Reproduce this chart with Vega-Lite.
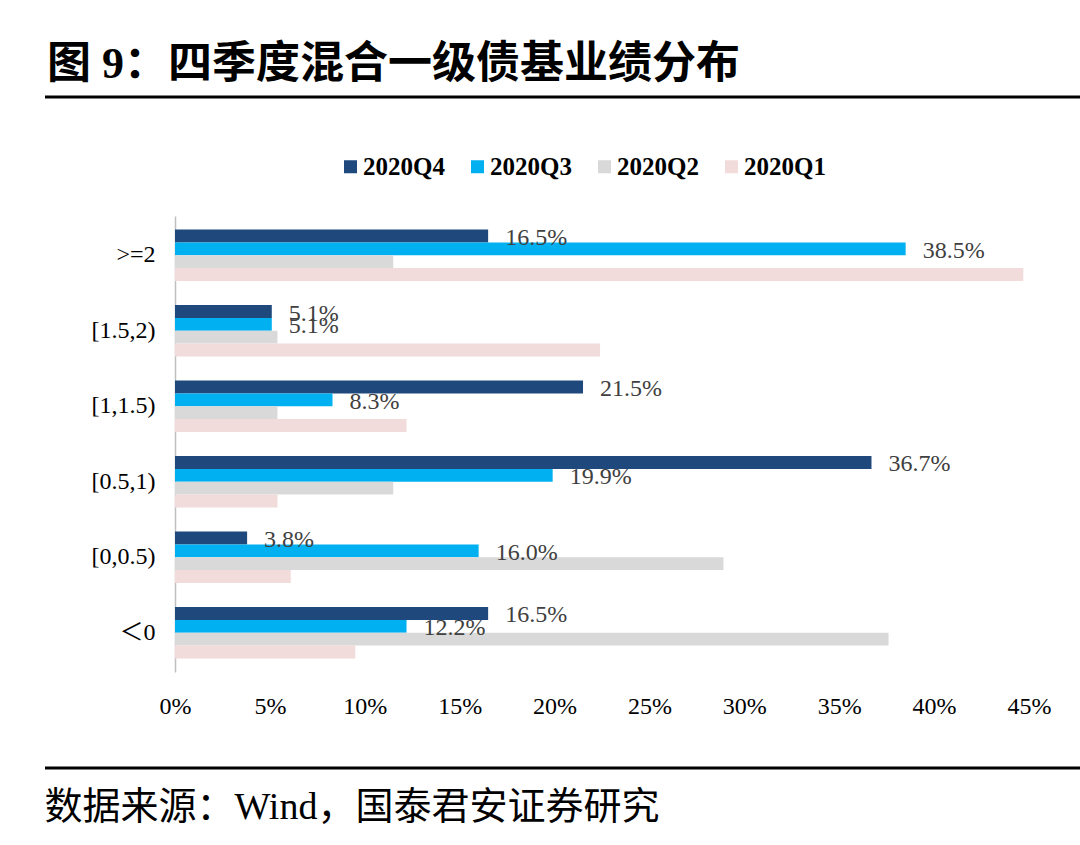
{
  "$schema": "https://vega.github.io/schema/vega-lite/v6.json",
  "width": 854,
  "height": 456,
  "autosize": "none",
  "padding": {"left": 175, "top": 216, "right": 51, "bottom": 173},
  "background": "white",
  "title": {
    "text": "图 9：四季度混合一级债基业绩分布",
    "anchor": "start",
    "frame": "group",
    "dx": -128,
    "offset": 9,
    "font": "Liberation Serif, Noto Sans CJK SC",
    "fontSize": 44,
    "fontWeight": "bold",
    "color": "black"
  },
  "data": {
    "values": [
      {"range": ">=2", "series": "2020Q4", "value": 0.165},
      {"range": ">=2", "series": "2020Q3", "value": 0.385},
      {"range": ">=2", "series": "2020Q2", "value": 0.115},
      {"range": ">=2", "series": "2020Q1", "value": 0.447},
      {"range": "[1.5,2)", "series": "2020Q4", "value": 0.051},
      {"range": "[1.5,2)", "series": "2020Q3", "value": 0.051},
      {"range": "[1.5,2)", "series": "2020Q2", "value": 0.054},
      {"range": "[1.5,2)", "series": "2020Q1", "value": 0.224},
      {"range": "[1,1.5)", "series": "2020Q4", "value": 0.215},
      {"range": "[1,1.5)", "series": "2020Q3", "value": 0.083},
      {"range": "[1,1.5)", "series": "2020Q2", "value": 0.054},
      {"range": "[1,1.5)", "series": "2020Q1", "value": 0.122},
      {"range": "[0.5,1)", "series": "2020Q4", "value": 0.367},
      {"range": "[0.5,1)", "series": "2020Q3", "value": 0.199},
      {"range": "[0.5,1)", "series": "2020Q2", "value": 0.115},
      {"range": "[0.5,1)", "series": "2020Q1", "value": 0.054},
      {"range": "[0,0.5)", "series": "2020Q4", "value": 0.038},
      {"range": "[0,0.5)", "series": "2020Q3", "value": 0.160},
      {"range": "[0,0.5)", "series": "2020Q2", "value": 0.289},
      {"range": "[0,0.5)", "series": "2020Q1", "value": 0.061},
      {"range": "＜0", "series": "2020Q4", "value": 0.165},
      {"range": "＜0", "series": "2020Q3", "value": 0.122},
      {"range": "＜0", "series": "2020Q2", "value": 0.376},
      {"range": "＜0", "series": "2020Q1", "value": 0.095}
    ]
  },
  "layer": [
    {
      "mark": {"type": "bar"},
      "encoding": {
        "y": {
          "field": "range",
          "type": "nominal",
          "sort": [">=2", "[1.5,2)", "[1,1.5)", "[0.5,1)", "[0,0.5)", "＜0"],
          "scale": {"paddingInner": 0.32, "paddingOuter": 0.18},
          "axis": {
            "title": null,
            "ticks": false,
            "domainColor": "#bfbfbf",
            "domainWidth": 1.5,
            "labelFont": "Liberation Serif, Noto Sans CJK SC",
            "labelFontSize": 24,
            "labelColor": "black",
            "labelPadding": 20
          }
        },
        "yOffset": {
          "field": "series",
          "type": "nominal",
          "sort": ["2020Q4", "2020Q3", "2020Q2", "2020Q1"],
          "scale": {"paddingInner": 0, "paddingOuter": 0}
        },
        "x": {
          "field": "value",
          "type": "quantitative",
          "scale": {"domain": [0, 0.45], "nice": false},
          "axis": {
            "title": "数据来源：Wind，国泰君安证券研究",
            "titleFont": "Liberation Serif, Noto Sans CJK SC",
            "titleFontSize": 38,
            "titleFontWeight": "normal",
            "titleColor": "black",
            "titleAnchor": "start",
            "titleAlign": "left",
            "titleBaseline": "alphabetic",
            "titleX": -131,
            "titleY": 146,
            "values": [0, 0.05, 0.1, 0.15, 0.2, 0.25, 0.3, 0.35, 0.4, 0.45],
            "format": ".0%",
            "domain": false,
            "ticks": false,
            "grid": false,
            "labelFlush": false,
            "labelFont": "Liberation Serif",
            "labelFontSize": 24,
            "labelColor": "black",
            "labelPadding": 22
          }
        },
        "color": {
          "field": "series",
          "type": "nominal",
          "sort": ["2020Q4", "2020Q3", "2020Q2", "2020Q1"],
          "scale": {
            "domain": ["2020Q4", "2020Q3", "2020Q2", "2020Q1"],
            "range": ["#1F497D", "#00B0F0", "#D9D9D9", "#F2DCDB"]
          },
          "legend": {
            "title": null,
            "orient": "none",
            "direction": "horizontal",
            "legendX": 163,
            "legendY": -62,
            "symbolType": "square",
            "symbolSize": 169,
            "symbolStrokeWidth": 0,
            "labelFont": "Liberation Serif",
            "labelFontSize": 25,
            "labelFontWeight": "bold",
            "labelColor": "black",
            "labelOffset": 0,
            "columnPadding": 20
          }
        }
      }
    },
    {
      "transform": [{"filter": "datum.series === '2020Q4' || datum.series === '2020Q3'"}],
      "mark": {
        "type": "text",
        "align": "left",
        "baseline": "middle",
        "dx": 17,
        "dy": 2,
        "font": "Liberation Serif",
        "fontSize": 24,
        "color": "#404040"
      },
      "encoding": {
        "y": {
          "field": "range",
          "type": "nominal",
          "sort": [">=2", "[1.5,2)", "[1,1.5)", "[0.5,1)", "[0,0.5)", "＜0"]
        },
        "yOffset": {
          "field": "series",
          "type": "nominal",
          "sort": ["2020Q4", "2020Q3", "2020Q2", "2020Q1"]
        },
        "x": {"field": "value", "type": "quantitative"},
        "text": {"field": "value", "type": "quantitative", "format": ".1%"}
      }
    },
    {
      "data": {"values": [{}]},
      "mark": {"type": "rule", "color": "black", "strokeWidth": 3},
      "encoding": {
        "x": {"value": -130},
        "x2": {"value": 905},
        "y": {"value": -119}
      }
    },
    {
      "data": {"values": [{}]},
      "mark": {"type": "rule", "color": "black", "strokeWidth": 3},
      "encoding": {
        "x": {"value": -130},
        "x2": {"value": 905},
        "y": {"value": 552}
      }
    }
  ],
  "config": {
    "view": {"stroke": null}
  }
}
